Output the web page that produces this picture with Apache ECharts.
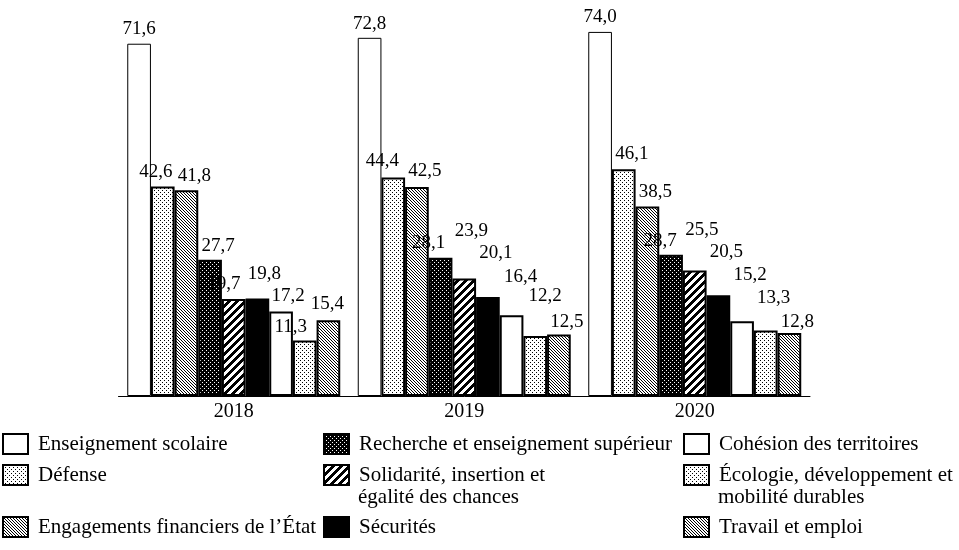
<!DOCTYPE html>
<html>
<head>
<meta charset="utf-8">
<script src="https://cdn.jsdelivr.net/npm/echarts@6/dist/echarts.min.js"></script>
<style>
html,body{margin:0;padding:0;background:#fff;}
#chart{width:959px;height:550px;}
</style>
</head>
<body>
<div id="chart"></div>
<script>
// ---- data ----
const years = ['2018', '2019', '2020'];
const seriesNames = [
  'Enseignement scolaire',
  'Défense',
  'Engagements financiers de l’État',
  'Recherche et enseignement supérieur',
  'Solidarité, insertion et égalité des chances',
  'Sécurités',
  'Cohésion des territoires',
  'Écologie, développement et mobilité durables',
  'Travail et emploi'
];
const enseignementScolaire = [71.6, 72.8, 74.0];
const defense = [42.6, 44.4, 46.1];
const engagementsFinanciers = [41.8, 42.5, 38.5];
const recherche = [27.7, 28.1, 28.7];
const solidarite = [19.7, 23.9, 25.5];
const securites = [19.8, 20.1, 20.5];
const cohesion = [17.2, 16.4, 15.2];
const ecologie = [11.3, 12.2, 13.3];
const travail = [15.4, 12.5, 12.8];
const seriesValues = [enseignementScolaire, defense, engagementsFinanciers, recherche,
  solidarite, securites, cohesion, ecologie, travail];

// label offsets (style only), per series per year
const labelDx = [[0,0,0],[-7,-11,8],[8,8,8],[8,-12,-11],[-10,7,7],[7,8,8],[7,9,8],[-14,10,8],[-1,8,8]];
const labelDy = [[0,1,0],[0,-2,-1],[0,-1,0],[1,0,1],[-1,-33,-26],[-10,-30,-29],[-1,-24,-32],[1,-25,-18],[-2,2,3]];

// ---- patterns ----
function tile(w, h, bg, fg, fn) {
  const c = document.createElement('canvas');
  c.width = w; c.height = h;
  const ctx = c.getContext('2d');
  ctx.fillStyle = bg; ctx.fillRect(0, 0, w, h);
  ctx.fillStyle = fg;
  for (let y = 0; y < h; y++) for (let x = 0; x < w; x++) if (fn(x, y)) ctx.fillRect(x, y, 1, 1);
  return { image: c, repeat: 'repeat' };
}
const dotted = tile(4, 4, '#fff', '#000', (x, y) => (x === 0 && y === 0) || (x === 2 && y === 2));
const hatch = tile(3, 3, '#fff', '#000', (x, y) => x === y);
const darkDots = tile(4, 4, '#000', '#fff', (x, y) => (x === 0 && y === 0) || (x === 2 && y === 2));
const stripes = tile(8, 8, '#fff', '#000', (x, y) => ((x + y) % 8) < 4);
const fills = ['#ffffff', dotted, hatch, darkDots, stripes, '#000000', '#ffffff', dotted, hatch];
const borderWidths = [1, 2, 2, 2, 2, 2, 2, 2, 2];

const FONT = 'Liberation Serif';
const fmt = v => v.toFixed(1).replace('.', ',');

const series = seriesNames.map((name, i) => ({
  name: name,
  type: 'bar',
  barGap: '0%',
  barCategoryGap: '7.6%',
  itemStyle: { color: fills[i], borderColor: '#000', borderWidth: borderWidths[i] },
  label: {
    show: true, position: 'top', distance: 5,
    fontFamily: FONT, fontSize: 19, color: '#000',
    formatter: p => fmt(p.value)
  },
  data: seriesValues[i].map((v, j) => ({
    value: v,
    label: { offset: [labelDx[i][j], labelDy[i][j]] }
  }))
}));

// legend placement (3 columns)
const legendCols = [2, 323, 683];
const legendRows = [433, 464, 516];
const legendPos = [[0,0],[0,1],[0,2],[1,0],[1,1],[1,2],[2,0],[2,1],[2,2]];
const firstLines = {
  'Solidarité, insertion et égalité des chances': 'Solidarité, insertion et',
  'Écologie, développement et mobilité durables': 'Écologie, développement et'
};
const secondLines = [
  { text: 'égalité des chances', col: 1 },
  { text: 'mobilité durables', col: 2 }
];
const legends = seriesNames.map((name, i) => ({
  data: [name],
  left: legendCols[legendPos[i][0]],
  top: legendRows[legendPos[i][1]],
  orient: 'vertical',
  padding: 0,
  itemWidth: 25,
  itemHeight: 20,
  icon: 'rect',
  selectedMode: false,
  itemStyle: { borderColor: '#000', borderWidth: 2 },
  textStyle: { fontFamily: FONT, fontSize: 21, color: '#000', padding: [0, 0, 0, 5] },
  formatter: n => firstLines[n] || n
}));

const chart = echarts.init(document.getElementById('chart'), null, { renderer: 'canvas' });
chart.setOption({
  animation: false,
  backgroundColor: '#fff',
  grid: { left: 118.5, right: 149, top: 2.4, bottom: 154 },
  xAxis: {
    type: 'category',
    data: years,
    axisLine: { lineStyle: { color: '#000', width: 1 } },
    axisTick: { show: false },
    axisLabel: { fontFamily: FONT, fontSize: 20, color: '#000', margin: 6 }
  },
  yAxis: { type: 'value', min: 0, max: 80, show: false, splitLine: { show: false } },
  legend: legends,
  graphic: secondLines.map(s => ({
    type: 'text',
    left: legendCols[s.col] + 35,
    top: 487,
    style: { text: s.text, font: '21px "' + FONT + '"', fill: '#000' }
  })),
  series: series
});
</script>
</body>
</html>
